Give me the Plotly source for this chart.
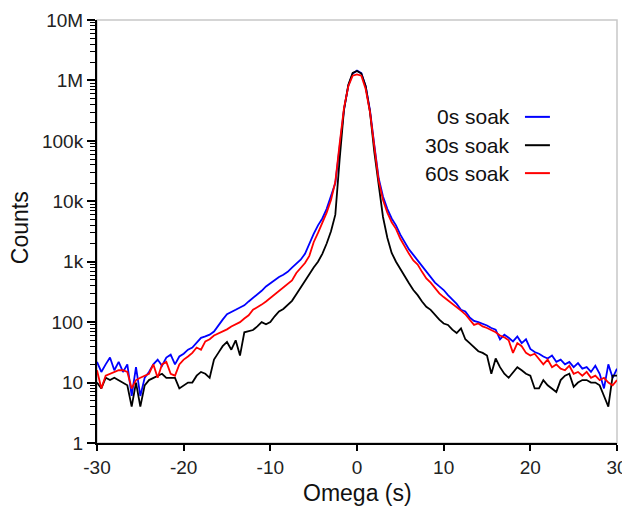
import numpy as np
import plotly.graph_objects as go

# omega grid, 0.5 s steps
omega = np.arange(-30, 30.01, 0.5)

soak_0s = [22, 15, 20, 26, 16, 22, 15, 20, 6, 18, 6, 12, 15, 20, 24, 19, 26, 29, 20, 27,
           30, 35, 38, 45, 55, 58, 62, 70, 89, 110, 135, 145, 160, 175, 190, 220, 250, 290, 330, 390,
           440, 500, 560, 610, 680, 800, 920, 1080, 1350, 2000, 2900, 4000, 5200, 7500, 12500, 20000, 80000, 330000, 820000, 1300000,
           1450000, 1320000, 800000, 320000, 85000, 24000, 12000, 7500, 5200, 4000, 2800, 2100, 1600, 1300, 1050, 850, 680, 560, 450, 390,
           340, 280, 240, 200, 160, 150, 120, 105, 100, 95, 88, 80, 75, 52, 62, 55, 48, 58, 45, 52,
           36, 32, 30, 27, 25, 28, 22, 24, 20, 22, 18, 21, 17, 18, 15, 19, 14, 8, 20, 12, 17]

soak_30s = [10, 8, 12, 11, 12, 11, 10, 9, 4, 10, 4, 9, 11, 12, 13, 14, 12, 12, 12, 8,
            9, 10, 10, 13, 15, 14, 12, 24, 31, 40, 47, 35, 50, 28, 68, 72, 74, 85, 100, 92,
            100, 125, 150, 165, 190, 225, 290, 380, 480, 620, 800, 1000, 1350, 2000, 3200, 6000, 50000, 330000, 850000, 1330000,
            1430000, 1300000, 800000, 300000, 65000, 18000, 5500, 2500, 1400, 1000, 750, 560, 440, 340, 280, 220, 180, 160, 130, 110,
            95, 90, 75, 66, 79, 52, 45, 38, 33, 31, 28, 14, 25, 18, 14, 12, 15, 18, 16, 14,
            13, 8, 8, 11, 9, 8, 7, 11, 13, 14, 8.5, 10, 11, 11, 10, 10, 9, 6, 4, 13, 13]

soak_60s = [16, 8, 13, 14, 15, 16, 16, 15, 8, 11, 12, 13, 14, 20, 12, 20, 22, 14, 13, 20,
            24, 27, 31, 38, 35, 48, 52, 60, 65, 70, 76, 85, 92, 100, 115, 130, 160, 175, 195, 220,
            250, 290, 330, 380, 430, 490, 650, 780, 950, 1250, 2100, 3000, 4300, 6500, 10500, 21000, 90000, 350000, 800000, 1200000,
            1260000, 1200000, 720000, 300000, 80000, 22000, 10500, 6500, 4500, 3500, 2400, 1750, 1350, 1050, 900, 680, 530, 450, 360, 300,
            260, 230, 200, 180, 155, 135, 110, 90, 95, 85, 80, 74, 68, 60, 56, 50, 31, 45, 40, 31,
            28, 30, 25, 20, 24, 18, 20, 17, 16, 19, 14, 15, 13, 15, 12, 13, 11, 12, 10, 9, 11]

series_names = ["0s soak", "30s soak", "60s soak"]
series_colors = ["#0000ff", "#000000", "#ff0000"]

y_ticks = [1, 10, 100, 1e3, 1e4, 1e5, 1e6, 1e7]
y_ticktext = ["1", "10", "100", "1k", "10k", "100k", "1M", "10M"]
y_minor = [m * 10 ** k for k in range(7) for m in range(2, 10)]
x_ticks = [-30, -20, -10, 0, 10, 20, 30]
x_ticktext = ["-30", "-20", "-10", "0", "10", "20", "30"]

font = "Liberation Sans, Arial, sans-serif"

fig = go.Figure()
for name, ys, col in zip(series_names, [soak_0s, soak_30s, soak_60s], series_colors):
    fig.add_trace(go.Scatter(x=omega, y=ys, mode="lines", name=name,
                             line=dict(color=col, width=1.8), showlegend=False))

# page body has an 8px margin, so the figure is a bit smaller than the window
fig.update_layout(
    width=622, height=500,
    margin=dict(l=89, r=13, t=12, b=65),
    plot_bgcolor="white", paper_bgcolor="white",
    font=dict(family=font, size=19, color="#222"),
)
fig.update_xaxes(range=[-30, 30], tickvals=x_ticks, ticktext=x_ticktext, automargin=False,
                 showgrid=False, zeroline=False,
                 showline=True, linecolor="black", linewidth=2,
                 ticks="outside", ticklen=6, tickwidth=2, tickcolor="black")
fig.update_yaxes(type="log", range=[0, 7], tickvals=y_ticks, ticktext=y_ticktext, automargin=False,
                 showgrid=False, zeroline=False,
                 showline=True, linecolor="black", linewidth=2,
                 ticks="outside", ticklen=8, tickwidth=2, tickcolor="black",
                 minor=dict(tickvals=y_minor, ticks="outside", ticklen=5, tickwidth=1, tickcolor="black"))

# thin grey frame on top / right
fig.add_shape(type="rect", xref="paper", yref="paper", x0=0, x1=1, y0=0, y1=1,
              line=dict(color="#c8c8c8", width=1.5), layer="below")

fig.add_annotation(text="Counts", xref="paper", yref="paper", x=-0.148, y=0.508,
                   xanchor="center", yanchor="middle",
                   showarrow=False, textangle=-90, font=dict(size=23, color="#111"))
fig.add_annotation(text="Omega (s)", xref="paper", yref="paper", x=0.5, y=-0.119,
                   xanchor="center", yanchor="middle",
                   showarrow=False, font=dict(size=23, color="#111"))

# legend: label on the left, line sample on the right
leg_y = [0.771, 0.704, 0.638]
for name, col, yy in zip(series_names, series_colors, leg_y):
    fig.add_annotation(text=name, xref="paper", yref="paper", x=0.798, y=yy,
                       xanchor="right", yanchor="middle", showarrow=False,
                       font=dict(size=21, color="#111"))
    fig.add_shape(type="line", xref="paper", yref="paper", x0=0.823, x1=0.871, y0=yy, y1=yy,
                  line=dict(color=col, width=2))

fig.write_html("out.html")
